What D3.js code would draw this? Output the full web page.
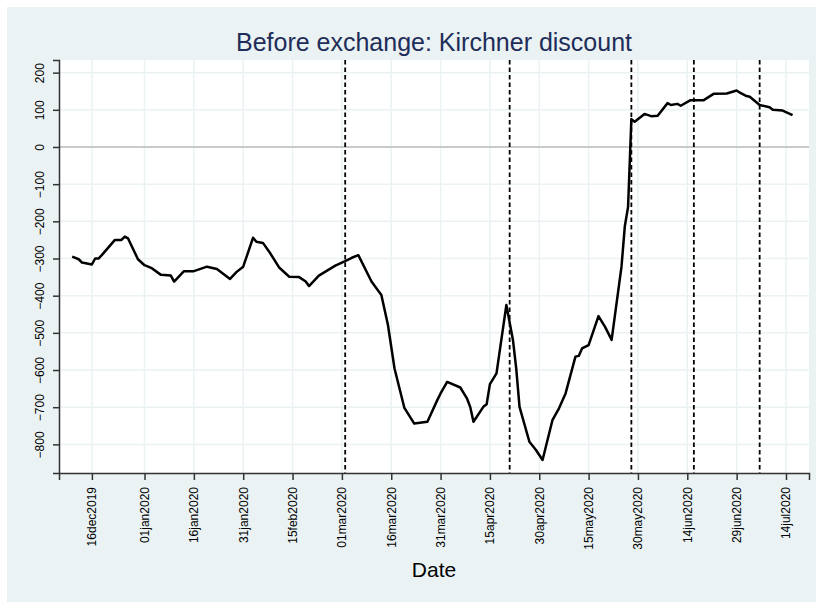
<!DOCTYPE html>
<html>
<head>
<meta charset="utf-8">
<script src="https://cdn.jsdelivr.net/npm/d3@7"></script>
<style>
  body { margin: 0; background: #fff; }
  text { font-family: "Liberation Sans", Arial, sans-serif; }
</style>
</head>
<body>
<div id="chart"></div>
<script>
// daily series
var dates = ["2019-12-10","2019-12-12","2019-12-13","2019-12-16","2019-12-17","2019-12-18","2019-12-19",
  "2019-12-23","2019-12-25","2019-12-26","2019-12-27","2019-12-30","2020-01-01","2020-01-03","2020-01-06",
  "2020-01-09","2020-01-10","2020-01-13","2020-01-16","2020-01-20","2020-01-23","2020-01-27","2020-01-29",
  "2020-01-31","2020-02-03","2020-02-04","2020-02-06","2020-02-08","2020-02-11","2020-02-14","2020-02-17",
  "2020-02-19","2020-02-20","2020-02-23","2020-02-28","2020-03-02","2020-03-04","2020-03-06","2020-03-10",
  "2020-03-13","2020-03-15","2020-03-17","2020-03-20","2020-03-23","2020-03-27","2020-03-30","2020-03-31",
  "2020-04-02","2020-04-06","2020-04-08","2020-04-09","2020-04-10","2020-04-13","2020-04-14","2020-04-15",
  "2020-04-17","2020-04-20","2020-04-22","2020-04-23","2020-04-24","2020-04-27","2020-04-29","2020-05-01",
  "2020-05-04","2020-05-06","2020-05-08","2020-05-11","2020-05-12","2020-05-13","2020-05-15","2020-05-18",
  "2020-05-20","2020-05-22","2020-05-25","2020-05-26","2020-05-27","2020-05-28","2020-05-29","2020-06-01",
  "2020-06-03","2020-06-05","2020-06-08","2020-06-09","2020-06-11","2020-06-12","2020-06-15","2020-06-19",
  "2020-06-22","2020-06-26","2020-06-29","2020-06-30","2020-07-02","2020-07-03","2020-07-06","2020-07-09",
  "2020-07-10","2020-07-13","2020-07-16"];
var discount = [-295,-302,-311,-316,-300,-300,-291,
  -250,-250,-241,-246,-302,-318,-325,-344,
  -346,-362,-334,-334,-322,-328,-355,-336,
  -322,-244,-255,-258,-283,-325,-349,-350,
  -362,-374,-346,-319,-307,-298,-291,-362,
  -398,-479,-596,-702,-744,-739,-681,-663,
  -632,-647,-676,-699,-739,-699,-692,-638,
  -609,-425,-519,-596,-699,-793,-815,-842,
  -735,-703,-663,-564,-562,-542,-533,-455,
  -484,-519,-322,-214,-161,75,68,89,
  83,84,118,113,116,111,126,126,
  143,144,152,146,137,135,113,107,
  100,98,86];

var eventDates = ["2020-03-02","2020-04-21","2020-05-28","2020-06-16","2020-07-06"];
var xTickDates = ["2019-12-16","2020-01-01","2020-01-16","2020-01-31","2020-02-15","2020-03-01",
  "2020-03-16","2020-03-31","2020-04-15","2020-04-30","2020-05-15","2020-05-30","2020-06-14",
  "2020-06-29","2020-07-14"];
var yTicks = [200,100,0,-100,-200,-300,-400,-500,-600,-700,-800];

var W = 816, H = 604;
var plot = {left: 59, right: 809, top: 60, bottom: 473};

var parse = d3.timeParse("%Y-%m-%d");
var fmt = d3.timeFormat("%d%b%Y");
var data = dates.map(function (d, i) { return {date: parse(d), v: discount[i]}; });

var x = d3.scaleTime()
    .domain([parse("2019-12-06"), parse("2020-07-21")])
    .range([plot.left, plot.right]);
var y = d3.scaleLinear()
    .domain([-877, 234])
    .range([plot.bottom, plot.top]);

var svg = d3.select("#chart").append("svg")
    .attr("width", W)
    .attr("height", H);

// outer background
svg.append("rect")
    .attr("x", 7).attr("y", 7)
    .attr("width", W - 7).attr("height", 595)
    .attr("fill", "#eaf2f3");

svg.append("rect")
    .attr("x", plot.left).attr("y", plot.top)
    .attr("width", plot.right - plot.left)
    .attr("height", plot.bottom - plot.top)
    .attr("fill", "#fff");

// grid
svg.append("g").selectAll("line")
    .data(yTicks)
    .enter().append("line")
    .attr("x1", plot.left).attr("x2", plot.right)
    .attr("y1", function (d) { return y(d); })
    .attr("y2", function (d) { return y(d); })
    .attr("stroke", "#eaf2f3")
    .attr("stroke-width", 1.5);

svg.append("g").selectAll("line")
    .data(xTickDates)
    .enter().append("line")
    .attr("x1", function (d) { return x(parse(d)); })
    .attr("x2", function (d) { return x(parse(d)); })
    .attr("y1", plot.top).attr("y2", plot.bottom)
    .attr("stroke", "#eaf2f3")
    .attr("stroke-width", 1.5);

// zero line
svg.append("line")
    .attr("x1", plot.left).attr("x2", plot.right)
    .attr("y1", y(0)).attr("y2", y(0))
    .attr("stroke", "#bdbdbd")
    .attr("stroke-width", 1.5);

// event lines
svg.append("g").selectAll("line")
    .data(eventDates)
    .enter().append("line")
    .attr("x1", function (d) { return x(parse(d)); })
    .attr("x2", function (d) { return x(parse(d)); })
    .attr("y1", plot.top).attr("y2", plot.bottom)
    .attr("stroke", "#000")
    .attr("stroke-width", 1.8)
    .attr("stroke-dasharray", "4.5,3");

// series
var line = d3.line()
    .x(function (d) { return x(d.date); })
    .y(function (d) { return y(d.v); });

svg.append("path")
    .datum(data)
    .attr("d", line)
    .attr("fill", "none")
    .attr("stroke", "#000")
    .attr("stroke-width", 2.5)
    .attr("stroke-linejoin", "round");

// y axis
var yAxis = svg.append("g")
    .attr("transform", "translate(" + plot.left + ",0)")
    .call(d3.axisLeft(y).tickValues(yTicks).tickSize(6).tickPadding(4).tickFormat(d3.format("d")));
yAxis.select(".domain").attr("stroke", "#333").attr("stroke-width", 1.5);
yAxis.selectAll(".tick line").attr("stroke", "#333").attr("stroke-width", 1.5);
yAxis.selectAll(".tick text")
    .attr("font-size", 12)
    .attr("fill", "#000")
    .attr("x", null).attr("dy", null)
    .attr("text-anchor", "middle")
    .attr("transform", "translate(-15,0) rotate(-90)");

// x axis
var xAxis = svg.append("g")
    .attr("transform", "translate(0," + plot.bottom + ")")
    .call(d3.axisBottom(x)
        .tickValues(xTickDates.map(parse))
        .tickSize(7)
        .tickFormat(function (d) { return fmt(d).toLowerCase(); }));
xAxis.select(".domain").attr("stroke", "#333").attr("stroke-width", 1.5);
xAxis.selectAll(".tick line").attr("stroke", "#333").attr("stroke-width", 1.5);
xAxis.selectAll(".tick text")
    .attr("font-size", 12)
    .attr("fill", "#000")
    .attr("y", null).attr("dy", null)
    .attr("text-anchor", "end")
    .attr("transform", "translate(4,14) rotate(-90)");

// titles
svg.append("text")
    .attr("x", (plot.left + plot.right) / 2)
    .attr("y", 51)
    .attr("text-anchor", "middle")
    .attr("font-size", 25)
    .attr("fill", "#1e2d59")
    .text("Before exchange: Kirchner discount");

svg.append("text")
    .attr("x", (plot.left + plot.right) / 2)
    .attr("y", 577)
    .attr("text-anchor", "middle")
    .attr("font-size", 21)
    .attr("fill", "#000")
    .text("Date");
</script>
</body>
</html>
